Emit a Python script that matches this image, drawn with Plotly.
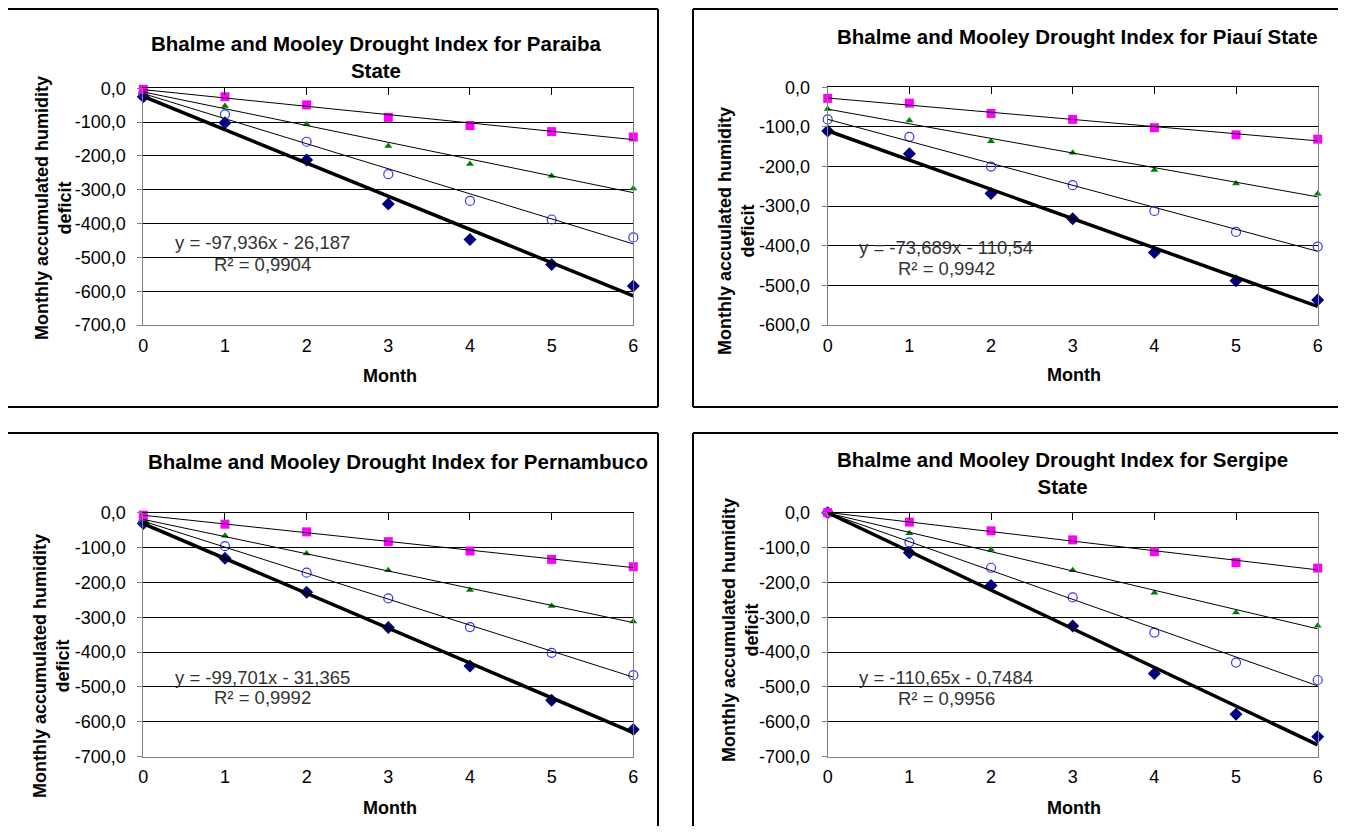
import numpy as np
import plotly.graph_objects as go

# figure is sized to fit inside the viewport next to the page's 8px body margin
W, H = 1330, 818
OFF = 8

months = [0, 1, 2, 3, 4, 5, 6]

titles = [
    "Bhalme and Mooley Drought Index for Paraiba<br>State",
    "Bhalme and Mooley Drought Index for Piauí State",
    "Bhalme and Mooley Drought Index for Pernambuco",
    "Bhalme and Mooley Drought Index for Sergipe<br>State",
]
y_titles = [
    "Monthly accumulated humidity<br>deficit",
    "Monthly accuulated humidity<br>deficit",
    "Monthly accumulated humidity<br>deficit",
    "Monthly accumulated humidity<br>deficit",
]
x_title = "Month"
equations = ["y = -97,936x - 26,187", "y = -73,689x - 110,54",
             "y = -99,701x - 31,365", "y = -110,65x - 0,7484"]
r_squared = ["R² = 0,9904", "R² = 0,9942", "R² = 0,9992", "R² = 0,9956"]

# Paraiba
paraiba_diamond = [-25, -102, -212, -342, -447, -521, -585]
paraiba_square = [-3, -25, -49, -86, -110, -128, -144]
paraiba_triangle = [-10, -52, -106, -171, -224, -259, -296]
paraiba_circle = [-15, -77, -158, -254, -333, -388, -441]
# Piauí
piaui_diamond = [-110, -168, -268, -332, -417, -488, -537]
piaui_square = [-28, -40, -66, -81, -102, -120, -131]
piaui_triangle = [-55, -84, -136, -165, -209, -243, -269]
piaui_circle = [-81, -125, -200, -247, -312, -365, -402]
# Pernambuco
pernambuco_diamond = [-31, -131, -228, -329, -440, -538, -622]
pernambuco_square = [-7, -33, -55, -83, -110, -134, -155]
pernambuco_triangle = [-21, -66, -117, -165, -222, -268, -312]
pernambuco_circle = [-26, -96, -172, -246, -328, -402, -466]
# Sergipe
sergipe_diamond = [0, -115, -209, -325, -461, -578, -643]
sergipe_square = [0, -27, -52, -78, -112, -143, -159]
sergipe_triangle = [0, -59, -106, -165, -230, -286, -324]
sergipe_circle = [0, -85, -158, -243, -344, -430, -480]

y_mins = [-700, -600, -700, -700]
tick_values_700 = [0, -100, -200, -300, -400, -500, -600, -700]
tick_labels_700 = ["0,0", "-100,0", "-200,0", "-300,0", "-400,0", "-500,0", "-600,0", "-700,0"]

panels = [
    dict(d=paraiba_diamond, s=paraiba_square, t=paraiba_triangle, c=paraiba_circle),
    dict(d=piaui_diamond, s=piaui_square, t=piaui_triangle, c=piaui_circle),
    dict(d=pernambuco_diamond, s=pernambuco_square, t=pernambuco_triangle, c=pernambuco_circle),
    dict(d=sergipe_diamond, s=sergipe_square, t=sergipe_triangle, c=sergipe_circle),
]

FONT = "Liberation Sans, Arial, sans-serif"


def px(x):
    return (x - OFF) / W


def py(y):
    return 1 - (y - OFF) / H


# plot-area pixel boxes (page coordinates): (left, right, top, bottom)
boxes = [
    (143.3, 633.3, 88.3, 325.0),
    (827.7, 1317.7, 87.3, 325.0),
    (143.3, 633.3, 512.7, 756.7),
    (827.7, 1317.7, 512.7, 756.7),
]

fig = go.Figure()
layout = dict(
    width=W, height=H, autosize=False,
    margin=dict(l=0, r=0, t=0, b=0, pad=0, autoexpand=False),
    paper_bgcolor="white", plot_bgcolor="white",
    showlegend=False, font=dict(family=FONT, color="black"),
)

styles = {
    "s": dict(symbol="square", size=9, color="#FF00FF"),
    "t": dict(symbol="triangle-up", size=7, color="#008000"),
    "c": dict(symbol="circle-open", size=9, color="#3333FF", line=dict(width=1.2, color="#3333FF")),
    "d": dict(symbol="diamond", size=10, color="#000080"),
}

for i, (p, box) in enumerate(zip(panels, boxes)):
    n = i + 1
    xa = "x" if n == 1 else f"x{n}"
    ya = "y" if n == 1 else f"y{n}"
    on = n + 4
    xo = f"x{on}"
    l, r, t, b = box
    xdom = [px(l), px(r)]
    ydom = [py(b), py(t)]
    ymin = y_mins[i]
    tv = [v for v in tick_values_700 if v >= ymin]
    tl = [lab for v, lab in zip(tick_values_700, tick_labels_700) if v >= ymin]

    layout[f"xaxis{'' if n == 1 else n}"] = dict(
        domain=xdom, anchor=ya, range=[0, 6], tickvals=months,
        ticktext=[str(m) for m in months], ticks="", showgrid=False,
        zeroline=False, showline=True, linecolor="#808080", linewidth=1,
        tickfont=dict(size=18, color="black", family=FONT),
        ticklabelstandoff=4, automargin=False,
    )
    layout[f"xaxis{on}"] = dict(
        overlaying=xa, matches=xa, anchor=ya, side="top", range=[0, 6],
        tickvals=months, ticks="inside", ticklen=7, tickcolor="black",
        showticklabels=False, showgrid=False, zeroline=False,
        showline=True, linecolor="black", linewidth=1, automargin=False,
    )
    layout[f"yaxis{'' if n == 1 else n}"] = dict(
        domain=ydom, anchor=xa, range=[ymin, 0], tickvals=tv, ticktext=tl,
        ticks="outside", ticklen=5, tickcolor="#808080",
        showgrid=True, gridcolor="black", gridwidth=1, zeroline=False,
        showline=True, linecolor="#808080", linewidth=1, mirror=True,
        tickfont=dict(size=18, color="black", family=FONT),
        ticklabelstandoff=8, automargin=False,
    )

    # trend lines (least squares from the data)
    for key in ["s", "t", "c", "d"]:
        k, c0 = np.polyfit(months, p[key], 1)
        xs = [months[0], months[-1]]
        ys = [k * xs[0] + c0, k * xs[1] + c0]
        fig.add_trace(go.Scatter(
            x=xs, y=ys, mode="lines", xaxis=xo, yaxis=ya,
            line=dict(color="black", width=3.5 if key == "d" else 1),
            hoverinfo="skip"))
    for key in ["d", "c", "t", "s"]:
        fig.add_trace(go.Scatter(
            x=months, y=p[key], mode="markers", xaxis=xa, yaxis=ya,
            marker=styles[key], cliponaxis=False))

fig.update_layout(**layout)

# text positions (page pixels)
title_pos = [(376, 57), (1077, 37), (398, 462), (1062, 473)]
ytitle_pos = [(53, 208), (736, 231), (51, 666), (740, 630)]
xtitle_pos = [(390, 376), (1074, 375), (390, 808), (1074, 808)]
eq_pos = [((262, 243), (262, 264)), ((946, 247), (946, 268)),
          ((262, 677), (262, 697)), ((946, 677), (946, 698))]

annotations = []
for i in range(4):
    tx, ty = title_pos[i]
    annotations.append(dict(x=px(tx), y=py(ty), xref="paper", yref="paper",
                            text=f"<b>{titles[i]}</b>", showarrow=False,
                            xanchor="center", yanchor="middle",
                            font=dict(size=20.5, family=FONT, color="black")))
    yx, yy = ytitle_pos[i]
    annotations.append(dict(x=px(yx), y=py(yy), xref="paper", yref="paper",
                            text=f"<b>{y_titles[i]}</b>", showarrow=False, textangle=-90,
                            xanchor="center", yanchor="middle",
                            font=dict(size=18, family=FONT, color="black")))
    mx, my = xtitle_pos[i]
    annotations.append(dict(x=px(mx), y=py(my), xref="paper", yref="paper",
                            text=f"<b>{x_title}</b>", showarrow=False,
                            xanchor="center", yanchor="middle",
                            font=dict(size=18, family=FONT, color="black")))
    (e1x, e1y), (e2x, e2y) = eq_pos[i]
    annotations.append(dict(x=px(e1x), y=py(e1y), xref="paper", yref="paper",
                            text=equations[i], showarrow=False,
                            xanchor="center", yanchor="middle",
                            font=dict(size=18.5, family=FONT, color="#333333")))
    annotations.append(dict(x=px(e2x), y=py(e2y), xref="paper", yref="paper",
                            text=r_squared[i], showarrow=False,
                            xanchor="center", yanchor="middle",
                            font=dict(size=18.5, family=FONT, color="#333333")))

border = dict(color="black", width=2)
segs = [
    # panel 1
    (8, 9, 658, 9), (658, 9, 658, 407), (8, 407, 658, 407),
    # panel 2
    (693, 9, 1342, 9), (1342, 9, 1342, 407), (693, 407, 1342, 407), (693, 9, 693, 407),
    # panel 3
    (8, 433, 658, 433), (658, 433, 658, 834),
    # panel 4
    (693, 433, 1342, 433), (693, 433, 693, 834), (1342, 433, 1342, 834),
]
shapes = []
for x0, y0, x1, y1 in segs:
    shapes.append(dict(type="line", xref="paper", yref="paper",
                       x0=px(x0), y0=py(y0), x1=px(x1), y1=py(y1), line=border))

fig.update_layout(annotations=annotations, shapes=shapes)
fig.write_html("out.html")
